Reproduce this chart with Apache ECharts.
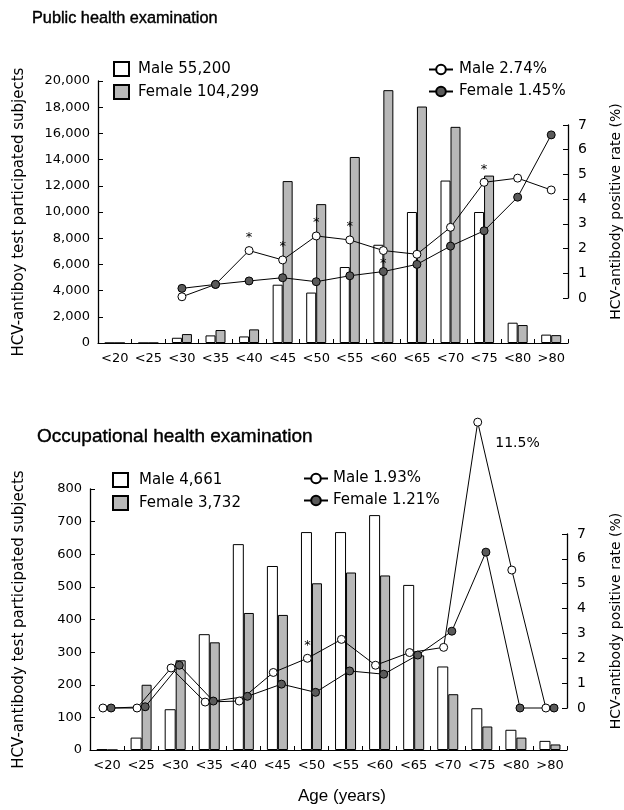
<!DOCTYPE html>
<html><head><meta charset="utf-8">
<script src="https://cdn.jsdelivr.net/npm/echarts@6/dist/echarts.min.js"></script>
<style>html,body{margin:0;padding:0;background:#fff}#c{width:624px;height:810px}</style>
</head><body><div id="c"></div>
<script>
// ---------- data ----------
const categories = ['<20','<25','<30','<35','<40','<45','<50','<55','<60','<65','<70','<75','<80','>80'];

// Public health examination
const pubMaleCount   = [0, 0, 400, 580, 500, 4450, 3850, 5800, 7500, 10000, 12400, 10000, 1550, 640];
const pubFemaleCount = [0, 0, 680, 990, 1040, 12360, 10600, 14200, 19300, 18050, 16500, 12780, 1370, 600];
const pubMaleRate    = [null, null, 0.05, 0.55, 1.92, 1.54, 2.51, 2.35, 1.92, 1.77, 2.86, 4.68, 4.85, 4.37];
const pubFemaleRate  = [null, null, 0.39, 0.55, 0.69, 0.82, 0.66, 0.90, 1.07, 1.36, 2.10, 2.72, 4.08, 6.60];
const pubMaleStar    = [0,0,0,0,1,1,1,1,1,0,0,1,0,0];

// Occupational health examination
const occMaleCount   = [2, 38, 125, 355, 631, 564, 668, 668, 720, 506, 256, 128, 62, 28];
const occFemaleCount = [0, 200, 275, 330, 420, 414, 511, 544, 535, 290, 171, 72, 38, 17];
const occMaleRate    = [0, 0, 1.61, 0.24, 0.28, 1.43, 2.00, 2.76, 1.72, 2.23, 2.44, 11.5, 5.55, 0];
const occFemaleRate  = [0, 0.05, 1.72, 0.28, 0.47, 0.96, 0.63, 1.49, 1.36, 2.13, 3.09, 6.27, 0, 0];
const occMaleStar    = [0,0,0,0,0,0,1,0,0,0,0,0,0,0];
const occMaleLabelIdx = 11;

const countTicksPub = [0, 20000, 2000];
const countTicksOcc = [0, 800, 100];
const rateTicks = [0, 7, 1];

const legendNames = {
  pubBars: ['Male 55,200', 'Female 104,299'],
  pubLines: ['Male 2.74%', 'Female 1.45%'],
  occBars: ['Male 4,661', 'Female 3,732'],
  occLines: ['Male 1.93%', 'Female 1.21%']
};

// ---------- styles ----------
const F = 'DejaVu Sans';
const black = '#000';
const femaleBar = '#b8b8b8';
const femaleDot = '#5a5a5a';

function catAxis(gridIndex) {
  return {
    type: 'category', gridIndex, data: categories, boundaryGap: true,
    axisLine: { show: true, onZero: false, lineStyle: { color: black, width: 1.2 } },
    axisTick: { show: true, inside: true, length: 4, lineStyle: { color: black } },
    axisLabel: { color: black, fontFamily: F, fontSize: 13, margin: 9, interval: 0 },
    splitLine: { show: false }
  };
}
function valAxis(gridIndex, t, position, extra) {
  return Object.assign({
    type: 'value', gridIndex, min: t[0], max: t[1], interval: t[2], position,
    axisLine: { show: true, onZero: false, lineStyle: { color: black, width: 1.3 } },
    axisTick: { show: true, inside: true, length: 5, lineStyle: { color: black, width: 1 } },
    axisLabel: { color: black, fontFamily: F, fontSize: 13, margin: 8,
      formatter: v => v.toLocaleString('en-US') },
    splitLine: { show: false },
    nameLocation: 'middle',
    nameTextStyle: { color: black, fontFamily: F, fontSize: 15 }
  }, extra || {});
}
function barSeries(name, data, xi, yi, female, w) {
  return {
    type: 'bar', name, data, xAxisIndex: xi, yAxisIndex: yi,
    barWidth: w, barGap: '0%',
    itemStyle: { color: female ? femaleBar : '#fff', borderColor: black, borderWidth: 1 }
  };
}
function lineSeries(name, data, xi, yi, female) {
  return {
    type: 'line', name, data, xAxisIndex: xi, yAxisIndex: yi, clip: false, z: 5,
    symbol: 'circle', symbolSize: 8, showAllSymbol: true,
    itemStyle: { color: female ? femaleDot : '#fff', borderColor: black, borderWidth: 1 },
    lineStyle: { color: black, width: 1 },
    label: { show: false }
  };
}
function starred(values, stars, xs) {
  return values.map((v, i) => {
    const val = xs ? [xs(i), v] : v;
    if (stars[i]) {
      return { value: val, label: { show: true, formatter: '*', position: i === 8 && !xs ? 'bottom' : 'top',
        distance: 2, color: black, fontFamily: F, fontSize: 13 } };
    }
    return val;
  });
}
const leg = (names, left, top, w, h, pad, icon) => ({
  data: names.map(n => icon ? { name: n, icon } : { name: n }),
  orient: 'vertical', left, top, itemWidth: w, itemHeight: h, itemGap: 7,
  selectedMode: false,
  textStyle: { color: black, fontFamily: F, fontSize: 15, padding: [0, 0, 0, pad] }
});

const occMaleData = starred(occMaleRate, occMaleStar, i => i - 0.12);
occMaleData[occMaleLabelIdx] = {
  value: [occMaleLabelIdx - 0.12, occMaleRate[occMaleLabelIdx]],
  label: { show: true, position: 'right', offset: [8, 21], color: black, fontFamily: F, fontSize: 14,
    formatter: p => p.value[1] + '%' }
};
const occFemaleData = occFemaleRate.map((v, i) => [i + 0.12, v]);

const G = { outerBoundsMode: 'none', containLabel: false };
const option = {
  backgroundColor: '#fff',
  animation: false,
  title: [
    { text: 'Public health examination', left: 27, top: 6,
      textStyle: { fontFamily: 'Liberation Sans', fontSize: 16.3, fontWeight: 'normal', color: black, textBorderColor: black, textBorderWidth: 0.4 } },
    { text: 'Occupational health examination', left: 32, top: 422,
      textStyle: { fontFamily: 'Liberation Sans', fontSize: 19, fontWeight: 'normal', color: black, textBorderColor: black, textBorderWidth: 0.4 } },
    { text: 'Age (years)', left: 293, top: 783,
      textStyle: { fontFamily: 'Liberation Sans', fontSize: 17, fontWeight: 'normal', color: black } }
  ],
  legend: [
    leg(legendNames.pubBars, 108, 56, 15, 14, 4, 'rect'),
    leg(legendNames.pubLines, 423, 57, 24, 12, 1),
    leg(legendNames.occBars, 107, 467, 15, 14, 6, 'rect'),
    leg(legendNames.occLines, 298, 466, 24, 12, 0)
  ],
  grid: [
    Object.assign({ left: 98, width: 470, top: 81, height: 262 }, G),
    Object.assign({ left: 98, width: 470, top: 125, height: 173 }, G),
    Object.assign({ left: 90, width: 477, top: 489, height: 261 }, G),
    Object.assign({ left: 90, width: 477, top: 534, height: 174 }, G)
  ],
  xAxis: [
    catAxis(0),
    Object.assign(catAxis(1), { show: false }),
    catAxis(2),
    { type: 'value', gridIndex: 3, min: -0.5, max: categories.length - 0.5, show: false }
  ],
  yAxis: [
    valAxis(0, countTicksPub, 'left', { name: 'HCV-antiboy test participated subjects', nameGap: 71 }),
    valAxis(1, rateTicks, 'right', { name: 'HCV-antibody positive rate (%)', nameGap: 41,
      nameTextStyle: { color: black, fontFamily: F, fontSize: 14 },
      axisLabel: { color: black, fontFamily: F, fontSize: 14, margin: 10 } }),
    valAxis(2, countTicksOcc, 'left', { name: 'HCV-antibody test participated subjects', nameGap: 63 }),
    valAxis(3, rateTicks, 'right', { name: 'HCV-antibody positive rate (%)', nameGap: 42,
      nameTextStyle: { color: black, fontFamily: F, fontSize: 14 },
      axisLabel: { color: black, fontFamily: F, fontSize: 14, margin: 10 } })
  ],
  series: [
    barSeries(legendNames.pubBars[0], pubMaleCount, 0, 0, false, 10),
    barSeries(legendNames.pubBars[1], pubFemaleCount, 0, 0, true, 10),
    lineSeries(legendNames.pubLines[0], starred(pubMaleRate, pubMaleStar), 1, 1, false),
    lineSeries(legendNames.pubLines[1], pubFemaleRate, 1, 1, true),
    barSeries(legendNames.occBars[0], occMaleCount, 2, 2, false, 11),
    barSeries(legendNames.occBars[1], occFemaleCount, 2, 2, true, 10),
    lineSeries(legendNames.occLines[0], occMaleData, 3, 3, false),
    lineSeries(legendNames.occLines[1], occFemaleData, 3, 3, true)
  ]
};
const chart = echarts.init(document.getElementById('c'));
chart.setOption(option);
</script>
</body></html>
